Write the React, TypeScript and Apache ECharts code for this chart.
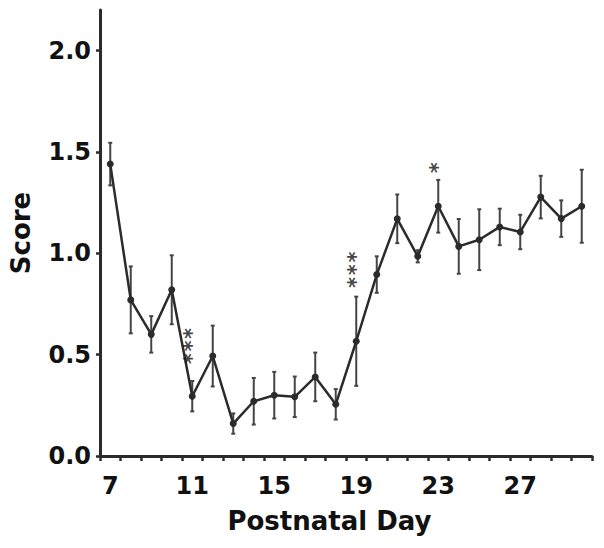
import React, { useEffect, useRef } from "react";
import * as echarts from "echarts";

const days = ["7","8","9","10","11","12","13","14","15","16","17","18","19","20","21","22","23","24","25","26","27","28","29","30"];
const scores = [1.44,0.77,0.60,0.82,0.295,0.493,0.16,0.27,0.30,0.292,0.39,0.255,0.566,0.895,1.17,0.985,1.232,1.034,1.067,1.13,1.105,1.277,1.171,1.232];
const errors = [0.105,0.165,0.09,0.17,0.075,0.15,0.05,0.115,0.115,0.1,0.12,0.075,0.22,0.09,0.12,0.03,0.13,0.135,0.15,0.09,0.085,0.105,0.09,0.18];
const starDays = ["11","19","23"];
const starText = ["***","***","*"];
const yTicks = [0,0.5,1.0,1.5,2.0];

const INK = "#2b2b2b";
const FONT = "DejaVu Sans, sans-serif";
const STAR_GAP = [16, 8, 6];

export default function App() {
  const ref = useRef<HTMLDivElement>(null);
  useEffect(() => {
    document.body.style.margin = "0";
    const chart = echarts.init(ref.current!, null, { renderer: "svg" });
    const errData = days.map((d, i) => [i, scores[i] - errors[i], scores[i] + errors[i]]);
    const starData = starDays.map((d, k) => {
      const i = days.indexOf(d);
      return {
        value: [i, scores[i] + errors[i]],
        label: { formatter: starText[k], offset: [STAR_GAP[k], 0] },
      };
    });
    chart.setOption({
      animation: false,
      grid: { left: 96, right: 12, top: 10, bottom: 92 },
      xAxis: {
        type: "category",
        data: days,
        boundaryGap: true,
        name: "Postnatal Day",
        nameLocation: "middle",
        nameGap: 52,
        nameTextStyle: { fontFamily: FONT, fontWeight: "bold", fontSize: 26, color: "#111", padding: [0, 33, 0, 0] },
        axisLine: { lineStyle: { color: INK, width: 3 } },
        axisTick: { show: true, interval: 0, length: 5, lineStyle: { color: INK, width: 2.5 } },
        axisLabel: { interval: 3, margin: 18, fontFamily: FONT, fontWeight: "bold", fontSize: 24, color: "#111" },
        splitLine: { show: false },
      },
      yAxis: {
        type: "value",
        min: 0,
        max: 2.2,
        name: "Score",
        nameLocation: "middle",
        nameGap: 66,
        nameTextStyle: { fontFamily: FONT, fontWeight: "bold", fontSize: 26, color: "#111" },
        axisLine: { show: true, lineStyle: { color: INK, width: 3 } },
        axisTick: { show: true, length: 4, customValues: yTicks, lineStyle: { color: INK, width: 2.5 } },
        axisLabel: {
          customValues: yTicks,
          margin: 9,
          fontFamily: FONT, fontWeight: "bold", fontSize: 24, color: "#111",
          formatter: (v: number) => v.toFixed(1),
        },
        splitLine: { show: false },
      },
      series: [
        {
          type: "custom",
          data: errData,
          renderItem: (params: any, api: any) => {
            const x = api.value(0);
            const lo = api.coord([x, api.value(1)]);
            const hi = api.coord([x, api.value(2)]);
            const hw = 2;
            const style = { stroke: "#444", lineWidth: 2 };
            return {
              type: "group",
              children: [
                { type: "line", shape: { x1: lo[0], y1: lo[1], x2: hi[0], y2: hi[1] }, style },
                { type: "line", shape: { x1: lo[0] - hw, y1: lo[1], x2: lo[0] + hw, y2: lo[1] }, style },
                { type: "line", shape: { x1: hi[0] - hw, y1: hi[1], x2: hi[0] + hw, y2: hi[1] }, style },
              ],
            };
          },
          z: 2,
        },
        {
          type: "line",
          data: scores,
          symbol: "circle",
          symbolSize: 7,
          itemStyle: { color: INK },
          lineStyle: { color: INK, width: 2.5 },
          z: 3,
        },
        {
          type: "scatter",
          data: starData,
          symbolSize: 0,
          itemStyle: { color: "transparent" },
          label: {
            show: true,
            position: "inside",
            rotate: 90,
            align: "left",
            verticalAlign: "middle",
            fontFamily: "DejaVu Sans Mono, monospace",
            fontWeight: "bold",
            fontSize: 21,
            color: "#111",
          },
          z: 4,
        },
      ],
    });
    return () => chart.dispose();
  }, []);
  return <div ref={ref} style={{ width: 604, height: 548 }} />;
}
